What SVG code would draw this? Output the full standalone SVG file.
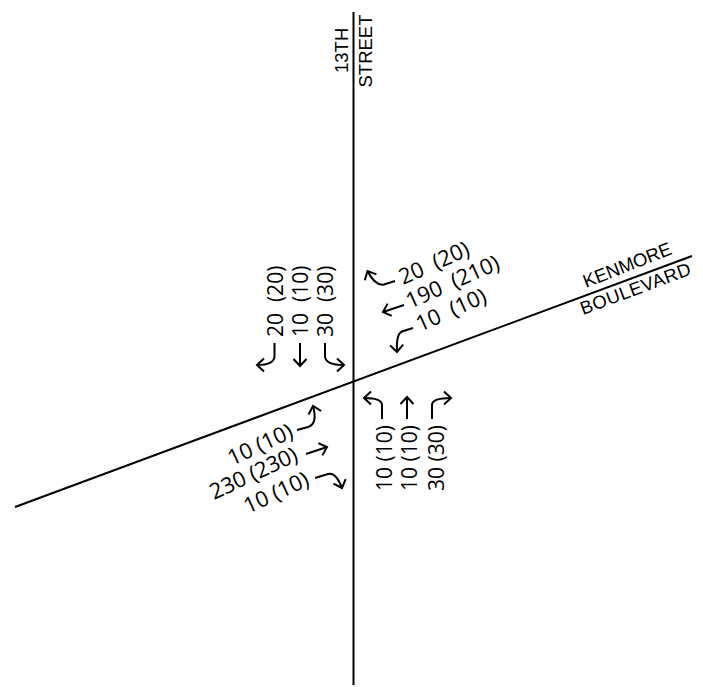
<svg xmlns="http://www.w3.org/2000/svg" width="703" height="687" viewBox="0 0 703 687">
<style>
text{fill:#000;white-space:pre}
.n{font-family:"Open Sans","Liberation Sans",sans-serif;font-size:21px}
.e{font-family:"Open Sans","Liberation Sans",sans-serif;font-size:22px}
.l{font-family:"Liberation Sans",Arial,sans-serif;font-size:18.500px}
.r{stroke:#000;stroke-width:2;fill:none}
.a{stroke:#000;stroke-width:2;fill:none;marker-end:url(#h)}
</style>
<defs>
<marker id="h" markerUnits="userSpaceOnUse" markerWidth="16" markerHeight="16" refX="11" refY="8" orient="auto" overflow="visible">
<path d="M4 1.500L11 8L4 14.500" fill="none" stroke="#000" stroke-width="2"/>
</marker>
</defs>
<g id="connectors">
<path class="r" d="M353.500 12V685"/>
<path class="r" d="M15 507L692 256"/>
<path class="a" d="M274.500 343V356Q274.500 365 257 365"/>
<path class="a" d="M300 343V366"/>
<path class="a" d="M325 343V356Q325 365 344 365"/>
<path class="a" d="M395 281L384 284.500Q375 286 367.500 271"/>
<path class="a" d="M404 305L383 312"/>
<path class="a" d="M413 328L402 331.500Q396 334 397 352"/>
<path class="a" d="M297 430L308 427Q318 424 313 406"/>
<path class="a" d="M306 454L327 447"/>
<path class="a" d="M315 478L328 474Q336 472 342 488"/>
<path class="a" d="M382 419V405Q382 398 364 398"/>
<path class="a" d="M407 419V397"/>
<path class="a" d="M432 419V405Q432 398 451 398"/>
</g>
<g id="street-13th"><text class="l" transform="translate(348 73) rotate(-90)">13TH</text><text class="l" transform="translate(372 87.500) rotate(-90)">STREET</text></g>
<g id="kenmore-boulevard"><text class="l" transform="translate(586 288) rotate(-21.500)">KENMORE</text><text class="l" letter-spacing="0.500" transform="translate(583 315) rotate(-20.500)">BOULEVARD</text></g>
<g id="south-approach">
<text class="n" transform="translate(283 337) rotate(-90)">20  (20)</text>
<text class="n" transform="translate(308 337) rotate(-90)">10  (10)</text>
<text class="n" transform="translate(333 337) rotate(-90)">30  (30)</text>
</g>
<g id="west-approach">
<text class="e" transform="translate(403 285) rotate(-24)">20  (20)</text>
<text class="e" transform="translate(410 309) rotate(-24)">190  (210)</text>
<text class="e" transform="translate(420 332) rotate(-24)">10  (10)</text>
</g>
<g id="east-approach">
<text class="e" transform="translate(232 466) rotate(-25)">10 (10)</text>
<text class="e" transform="translate(214 500) rotate(-25)">230 (230)</text>
<text class="e" transform="translate(248 514) rotate(-25)">10 (10)</text>
</g>
<g id="north-approach">
<text class="n" transform="translate(392 491) rotate(-90)">10 (10)</text>
<text class="n" transform="translate(417 491) rotate(-90)">10 (10)</text>
<text class="n" transform="translate(444 491) rotate(-90)">30 (30)</text>
</g>
</svg>
